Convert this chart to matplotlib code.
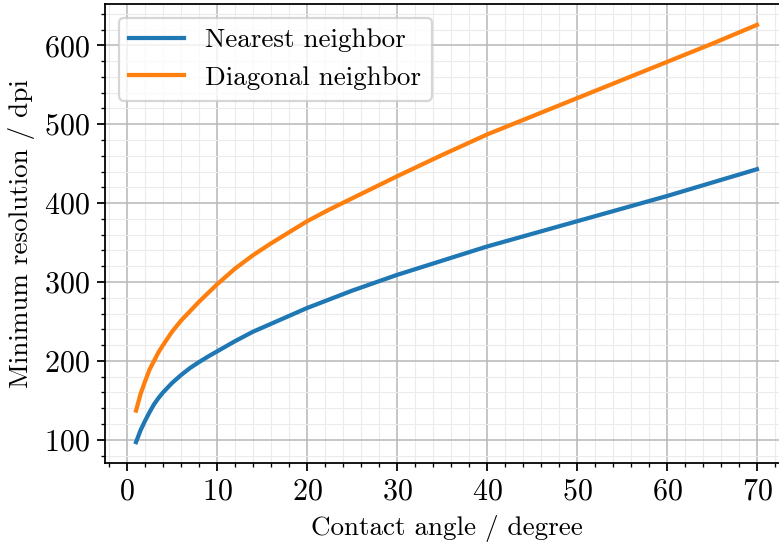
import matplotlib
matplotlib.use("Agg")
import matplotlib.pyplot as plt
from matplotlib.ticker import AutoMinorLocator, MultipleLocator

plt.rcParams["font.family"] = "serif"
plt.rcParams["font.serif"] = ["cmr10"]
plt.rcParams["mathtext.fontset"] = "cm"
plt.rcParams["axes.formatter.use_mathtext"] = True
plt.rcParams["font.size"] = 12.2
plt.rcParams["xtick.labelsize"] = 13.5
plt.rcParams["ytick.labelsize"] = 13.5

# contact angle in degrees
angle = [1, 1.5, 2, 2.5, 3, 3.5, 4, 5, 6, 7, 8, 9, 10, 12, 14, 16, 18, 20,
         22.5, 25, 27.5, 30, 35, 40, 45, 50, 55, 60, 65, 70]
# minimum resolution (dpi)
nearest = [97, 112, 124, 135, 145, 153, 160, 172, 182, 191, 198.5, 205.5, 212, 225, 237, 247, 257, 267,
           278, 289, 299, 309, 327, 345, 361, 377, 393, 409, 426, 443]
diagonal = [137, 158, 174, 189, 200, 211, 220, 237, 251, 263, 275, 286, 297, 317, 334, 349, 363, 377,
            392, 406, 420, 434, 461, 487, 510, 533, 556, 579, 602, 626]

fig = plt.figure(figsize=(779 / 160, 546 / 160), dpi=160)
ax = fig.add_axes([105 / 779, 83 / 546, 683 / 779, 459 / 546])

ax.plot(angle, nearest, color="#1f77b4", lw=1.9, label="Nearest neighbor")
ax.plot(angle, diagonal, color="#ff7f0e", lw=1.9, label="Diagonal neighbor")

ax.xaxis.set_major_locator(MultipleLocator(10))
ax.yaxis.set_major_locator(MultipleLocator(100))
ax.xaxis.set_minor_locator(AutoMinorLocator(5))
ax.yaxis.set_minor_locator(AutoMinorLocator(5))
ax.grid(which="major", color="#b8b8b8", lw=0.7)
ax.grid(which="minor", color="#ebebeb", lw=0.5)
ax.set_axisbelow(True)

ax.set_xlabel("Contact angle / degree")
ax.set_ylabel("Minimum resolution / dpi")
ax.legend(loc="upper left")

fig.savefig("out.png", dpi=160)
